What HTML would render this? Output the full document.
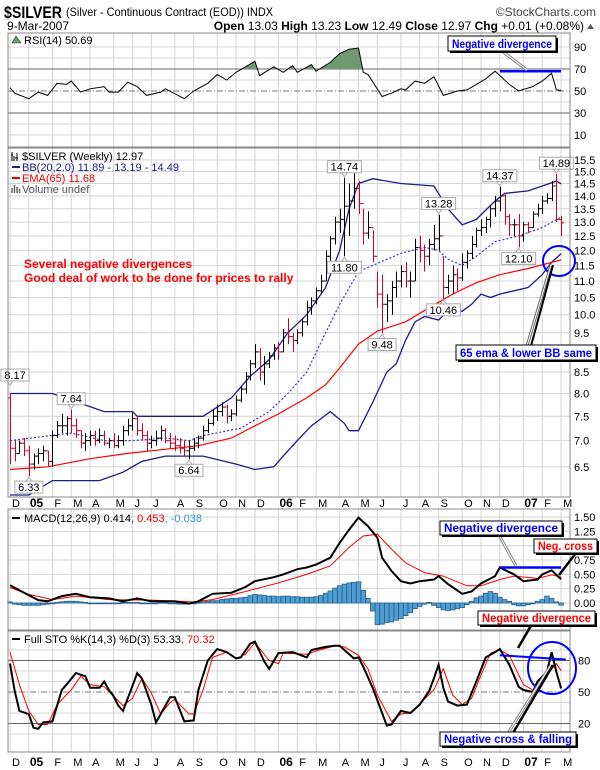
<!DOCTYPE html>
<html><head><meta charset="utf-8">
<style>
html,body{margin:0;padding:0;background:#fff;}
svg{display:block;font-family:"Liberation Sans",Arial,sans-serif;}
</style></head>
<body>
<svg id="chart" width="600" height="770" viewBox="0 0 600 770" xmlns="http://www.w3.org/2000/svg">
<rect x="0" y="0" width="600" height="770" fill="#fff"/>
<g>
<text x="4" y="18" font-size="17" font-weight="bold" textLength="58" lengthAdjust="spacingAndGlyphs">$SILVER</text>
<text x="66" y="16" font-size="12" textLength="207" lengthAdjust="spacingAndGlyphs">(Silver - Continuous Contract (EOD)) INDX</text>
<text x="596" y="16" font-size="12" fill="#444" text-anchor="end">©StockCharts.com</text>
<text x="7" y="30" font-size="12">9-Mar-2007</text>
<text x="584" y="30" font-size="12" text-anchor="end"><tspan font-weight="bold">Open</tspan> 13.03  <tspan font-weight="bold">High</tspan> 13.23  <tspan font-weight="bold">Low</tspan> 12.49  <tspan font-weight="bold">Close</tspan> 12.97  <tspan font-weight="bold">Chg</tspan> +0.01 (+0.08%)</text>
<polygon points="587,29 594,29 590.5,24" fill="#555"/>
</g>
</svg>
<script>
// ---------- DATA ----------
const monthLabels=["D","05","F","M","A","M","J","J","A","S","O","N","D","06","F","M","A","M","J","J","A","S","O","N","D","07","F","M"];
const monthWeeks=[0,4,9,13,17,22,26,30,35,39,44,48,52,57,61,65,70,74,78,83,87,91,96,100,104,109,113,117];
const highs=[8.0,7.0,7.0,7.05,6.9,6.75,6.85,6.9,6.8,7.2,7.4,7.55,7.5,7.64,7.45,7.2,7.15,7.2,7.2,7.25,7.2,7.05,7.15,7.1,7.3,7.45,7.6,7.5,7.35,7.2,7.1,7.2,7.3,7.25,7.15,7.1,7.05,7.0,7.0,7.05,7.1,7.3,7.45,7.65,7.75,7.8,7.75,7.65,7.95,8.15,8.5,8.8,9.2,9.1,8.9,9.0,9.2,9.25,9.6,9.9,9.5,9.6,9.9,10.4,10.5,10.8,11.2,12.0,12.5,13.2,13.5,14.74,14.5,15.1,14.6,13.5,13.4,12.7,11.3,11.2,10.6,11.0,11.3,11.5,11.6,11.3,12.4,12.5,12.2,12.4,12.9,13.28,11.8,11.2,11.5,11.4,11.9,12.0,12.5,12.8,13.1,13.2,13.6,14.0,14.37,14.1,13.3,13.1,13.3,13.0,13.0,13.4,13.7,14.0,14.1,14.6,14.89,13.23];
const lows=[6.55,6.6,6.75,6.7,6.33,6.45,6.55,6.6,6.5,6.5,7.05,7.15,7.1,7.15,7.05,6.85,6.8,6.9,6.9,6.95,6.9,6.85,6.85,6.85,6.9,7.1,7.2,7.1,7.0,6.8,6.85,6.9,7.0,6.95,6.85,6.8,6.75,6.7,6.64,6.8,6.85,7.0,7.15,7.3,7.4,7.5,7.35,7.4,7.5,7.8,8.0,8.3,8.6,8.3,8.2,8.6,8.8,8.8,9.0,9.2,9.0,9.2,9.4,9.7,10.0,10.3,10.6,11.0,11.6,12.2,12.6,11.8,12.5,13.5,13.3,12.2,12.4,11.6,10.2,9.48,9.8,10.0,10.5,10.8,10.8,10.5,11.0,11.6,11.3,11.5,12.0,12.0,10.46,10.6,10.6,10.7,11.0,11.4,11.7,12.1,12.5,12.6,12.8,13.2,13.4,12.9,12.5,12.5,12.1,12.3,12.6,12.8,13.2,13.3,13.7,13.8,13.0,12.49];
const closes=[6.85,6.75,6.95,6.8,6.55,6.7,6.75,6.8,6.6,7.1,7.3,7.3,7.45,7.3,7.2,6.95,7.0,7.1,7.0,7.1,6.95,7.0,6.9,7.0,7.2,7.3,7.45,7.2,7.1,6.95,7.0,7.05,7.2,7.0,6.95,6.9,6.85,6.8,6.85,6.95,7.05,7.2,7.35,7.5,7.6,7.7,7.5,7.55,7.85,8.1,8.4,8.7,9.0,8.5,8.7,8.9,9.1,9.0,9.5,9.4,9.3,9.5,9.8,10.2,10.4,10.7,11.0,11.8,12.4,13.0,13.1,13.6,13.8,14.3,13.7,12.6,12.8,11.8,10.6,10.3,10.4,10.8,11.0,11.3,11.0,11.0,12.1,12.0,11.8,12.2,12.4,12.5,10.8,11.0,11.2,11.1,11.6,11.9,12.2,12.7,12.8,13.1,13.5,13.8,14.0,13.2,12.9,12.9,12.5,12.9,12.8,13.3,13.5,13.8,13.9,14.4,13.1,12.97];
const bbUpperWeeks=[0,9,20,26,27,41,47,51,55,59,63,67,70,72,74,77,83,90,93,96,99,103,105,110,113,116,117];
const bbUpperValues=[8.0,8.0,7.6,7.6,7.5,7.5,7.9,8.4,8.8,9.5,10.0,10.8,12.0,13.5,14.5,14.7,14.5,14.4,13.5,12.9,13.1,13.8,14.1,14.2,14.4,14.6,14.49];
const bbMidWeeks=[0,13,20,26,33,38,41,49,55,59,63,67,70,74,77,83,88,91,93,96,99,103,108,113,117];
const bbMidValues=[7.0,7.15,7.0,7.0,7.05,7.0,7.1,7.25,7.6,8.0,8.5,9.5,10.3,11.3,11.5,11.9,12.1,12.0,11.7,11.5,11.8,12.3,12.5,12.8,13.19];
const bbLowerWeeks=[0,4,9,19,24,28,33,41,48,52,56,58,61,64,68,71,72,74,77,80,82,84,86,88,91,93,96,98,100,102,104,110,113,115,117];
const bbLowerValues=[6.0,6.0,6.25,6.25,6.4,6.6,6.7,6.7,6.55,6.45,6.5,6.7,7.0,7.3,7.6,7.35,7.2,7.2,7.8,8.5,8.7,9.3,9.8,9.95,9.85,10.1,10.1,10.3,10.6,10.5,10.6,10.8,11.2,11.6,11.89];
const emaWeeks=[0,8,17,25,30,40,47,52,57,63,67,70,74,78,84,89,94,99,104,110,117];
const emaValues=[6.45,6.5,6.65,6.75,6.8,6.9,7.05,7.3,7.55,7.9,8.2,8.6,9.2,9.55,9.8,10.2,10.6,10.95,11.2,11.4,11.68];
const rsiWeeks=[0,1,4,6,8,10,12,13,15,17,20,21,23,25,27,29,32,33,37,39,42,44,46,48,50,52,53,56,58,60,61,64,65,68,70,72,74,75,76,79,81,83,84,86,88,90,92,95,97,99,101,103,106,108,111,113,115,116,117];
const rsiValues=[53,48,43,49,46,57,56,59,49,52,54,49,49,58,54,46,49,52,43,50,57,65,60,67,72,77,64,72,67,73,67,74,68,76,84,88,89,67,65,45,48,52,51,59,57,63,46,50,51,56,61,68,56,50,54,59,66,51,50.69];
const macdWeeks=[0,3,6,8,11,14,17,21,24,27,30,35,38,40,43,47,50,52,56,58,61,63,65,68,70,72,74,76,78,79,81,83,85,87,90,91,93,96,98,100,103,104,107,109,112,113,115,117];
const macdValues=[0.31,0.18,0.05,0.03,0.12,0.16,0.10,0.08,0.03,0.08,0.03,0.03,-0.01,0.03,0.16,0.18,0.28,0.38,0.45,0.50,0.59,0.62,0.67,0.79,1.05,1.28,1.49,1.34,1.14,0.79,0.56,0.38,0.34,0.38,0.41,0.47,0.33,0.16,0.20,0.34,0.47,0.62,0.50,0.38,0.41,0.50,0.57,0.414];
const signalWeeks=[0,4,9,14,21,30,39,43,50,57,63,68,72,75,78,81,84,88,92,97,100,104,107,112,115,117];
const signalValues=[0.27,0.15,0.06,0.12,0.06,0.05,0.02,0.06,0.20,0.35,0.50,0.65,0.97,1.17,1.20,0.94,0.70,0.53,0.47,0.30,0.30,0.41,0.47,0.43,0.49,0.453];
const histValues=[0.02,-0.02,-0.03,-0.04,-0.04,-0.04,-0.04,-0.03,-0.02,0,0.01,0.02,0.03,0.03,0.03,0.02,0.01,0,0,-0.01,-0.01,-0.01,-0.01,0,0.01,0.01,0.01,0.01,0,-0.01,-0.01,0,0.01,0.01,0,0,-0.02,-0.02,-0.01,0,0.01,0.02,0.03,0.04,0.04,0.06,0.07,0.08,0.08,0.09,0.10,0.13,0.15,0.14,0.13,0.12,0.12,0.11,0.12,0.12,0.11,0.11,0.10,0.10,0.10,0.11,0.13,0.17,0.21,0.26,0.30,0.33,0.35,0.36,0.37,0.22,0.08,-0.14,-0.38,-0.37,-0.34,-0.33,-0.30,-0.27,-0.22,-0.17,-0.10,-0.06,-0.02,0.01,-0.04,-0.08,-0.12,-0.13,-0.12,-0.10,-0.08,-0.03,0.03,0.09,0.12,0.17,0.20,0.17,0.10,0.06,0.03,-0.03,-0.05,-0.05,-0.03,0,0.03,0.06,0.12,0.08,0.02,-0.038];
const stoKWeeks=[0,1,2,4,5,6,7,9,11,12,14,16,17,19,20,21,22,23,24,25,27,28,30,31,33,34,35,37,39,40,42,44,46,48,49,51,52,54,55,57,60,63,64,67,69,70,73,74,75,77,79,80,81,83,85,87,89,90,91,92,93,95,97,99,101,103,104,106,108,109,111,112,114,115,116,117];
const stoKValues=[77,51,32,29,16,15,21,22,52,57,68,65,54,54,60,52,46,37,32,44,68,63,38,21,37,45,45,22,23,52,80,91,88,82,83,96,98,79,72,87,88,83,90,93,94,94,82,83,74,54,30,18,19,32,30,38,51,63,76,54,41,37,38,60,83,88,91,76,55,52,50,60,69,88,69,53.33];
const stoDWeeks=[0,2,4,6,8,10,13,15,17,20,22,24,26,28,30,32,34,35,38,39,41,43,46,48,50,52,55,57,58,63,65,69,71,74,76,78,81,83,85,87,90,92,94,96,98,100,102,104,106,109,111,113,116,117];
const stoDValues=[88,57,32,19,19,38,52,65,57,55,46,37,44,63,49,29,40,43,29,29,52,83,88,82,86,97,80,77,87,86,89,94,93,85,72,47,22,29,30,39,52,72,47,38,44,66,87,90,85,57,52,61,77,70.32];
const priceTicks=[15.5,15.0,14.5,14.0,13.5,13.0,12.5,12.0,11.5,11.0,10.5,10.0,9.5,9.0,8.5,8.0,7.5,7.0,6.5];
const priceTickLabels=["15.5","15.0","14.5","14.0","13.5","13.0","12.5","12.0","11.5","11.0","10.5","10.0","9.5","","8.5","8.0","7.5","7.0","6.5"];
const rsiTicks=[90,70,50,30,10];
const macdTicks=[1.5,1.25,1.0,0.75,0.5,0.25,0,-0.25];
const macdTickLabels=["1.50","1.25","","0.75","0.50","0.25","0.00",""];
const stoTicks=[80,50,20];
const priceCallouts=[[71,14.74,"14.74","above"],[71,11.80,"11.80","below"],[91,13.28,"13.28","above"],[104,14.37,"14.37","above"],[116,14.89,"14.89","above"],[108,12.10,"12.10","below"],[92,10.46,"10.46","below"],[79,9.48,"9.48","below"],[0,8.17,"8.17","above"],[13,7.64,"7.64","above"],[38,6.64,"6.64","below"],[4,6.33,"6.33","below"]];

// ---------- SCALES ----------
const NS='http://www.w3.org/2000/svg';
const svg=document.getElementById('chart');
const L=8,R=570;
const xw=w=>10+w*4.71;
const LN=Math.log(15.5);
const priceY=p=>160+(LN-Math.log(p))*353;
const rsiY=v=>91-(v-50)*1.1;
const macdY=v=>603-v*57.3;
const stoY=v=>692-(v-50)*1.05;
function mk(tag,attrs,parent){const e=document.createElementNS(NS,tag);for(const k in attrs)e.setAttribute(k,attrs[k]);(parent||svg).appendChild(e);return e;}
function txt(x,y,s,attrs,parent){const e=mk('text',Object.assign({x:x,y:y,'font-size':11},attrs||{}),parent);e.textContent=s;return e;}

const panels=[["rsi-panel",33,147],["price-panel",148,497],["macd-panel",509,630],["sto-panel",631,752]];
const pg={};
panels.forEach(p=>{
  const g=mk('g',{});
  
  
  pg[p[0]]=g;
  const r=mk('rect',{x:L,y:p[1],width:R-L,height:p[2]-p[1],fill:'#fff',stroke:'none'},g);
  
  
  monthWeeks.forEach(w=>{
    const l=mk('line',{x1:xw(w),x2:xw(w),y1:p[1],y2:p[2],stroke:'#d4d4d4','stroke-width':1},g);
    
    
  });
});

// RSI grid
[10,20,30,40,50,60,70,80,90].forEach(v=>{
  const major=(v===70||v===30), mid=v===50;
  const l=mk('line',{x1:L,x2:R,y1:rsiY(v),y2:rsiY(v),stroke:major?'#666':(mid?'#777':'#d4d4d4'),'stroke-width':1,'stroke-dasharray':mid?'6,2,1,2':'none'},pg['rsi-panel']);
  
  
});
rsiTicks.forEach(v=>{
  const t=txt(574,rsiY(v)+4,String(v),{'font-size':11});
  
  
});
// price grid
priceTicks.forEach((p,i)=>{
  const l=mk('line',{x1:L,x2:R,y1:priceY(p),y2:priceY(p),stroke:'#d4d4d4'},pg['price-panel']);
  
  
  const t=txt(574,priceY(p)+4,priceTickLabels[i],{'font-size':11});
  
  
});
// macd grid
macdTicks.forEach((v,i)=>{
  const l=mk('line',{x1:L,x2:R,y1:macdY(v),y2:macdY(v),stroke:'#d4d4d4'},pg['macd-panel']);
  
  
  const t=txt(574,macdY(v)+4,macdTickLabels[i],{'font-size':11});
  
  
});
// sto grid
[10,20,30,40,50,60,70,80,90].forEach(v=>{
  const major=(v===80||v===20), mid=v===50;
  const l=mk('line',{x1:L,x2:R,y1:stoY(v),y2:stoY(v),stroke:major?'#666':(mid?'#777':'#d4d4d4'),'stroke-dasharray':mid?'6,2,1,2':'none'},pg['sto-panel']);
  
  
});
stoTicks.forEach(v=>{
  const t=txt(578,stoY(v)+4,String(v),{'font-size':11});
  
  
});
// date labels
[503,762].forEach((yy,k)=>{
  monthLabels.forEach((m,i)=>{
    const bold=/\d/.test(m);
    const t=txt(xw(monthWeeks[i])+(bold?1:2),yy+4,m,{'font-size':bold?12:11,'font-weight':bold?'bold':'normal','text-anchor':'start'});
    
    
  });
});

function pts(weeks,vals,fy){return weeks.map((w,i)=>xw(w).toFixed(1)+','+fy(vals[i]).toFixed(1)).join(' ');}

// RSI fill above 70 + line
const cp=mk('clipPath',{id:'rsiclip'});
mk('rect',{x:L,y:33,width:R-L,height:rsiY(70)-33},cp);
const rf=mk('polygon',{points:xw(rsiWeeks[0])+','+rsiY(70)+' '+pts(rsiWeeks,rsiValues,rsiY)+' '+xw(rsiWeeks[rsiWeeks.length-1])+','+rsiY(70),fill:'#6f9a6f','clip-path':'url(#rsiclip)'},pg['rsi-panel']);


const rl=mk('polyline',{points:pts(rsiWeeks,rsiValues,rsiY),fill:'none',stroke:'#000','stroke-width':1},pg['rsi-panel']);



// Bollinger, EMA
const bu=mk('polyline',{points:pts(bbUpperWeeks,bbUpperValues,priceY),fill:'none',stroke:'#1c1c8a','stroke-width':1.3},pg['price-panel']);


const bl=mk('polyline',{points:pts(bbLowerWeeks,bbLowerValues,priceY),fill:'none',stroke:'#1c1c8a','stroke-width':1.3},pg['price-panel']);


const bm=mk('polyline',{points:pts(bbMidWeeks,bbMidValues,priceY),fill:'none',stroke:'#3a3aaa','stroke-width':1.2,'stroke-dasharray':'2,2'},pg['price-panel']);


const em=mk('polyline',{points:pts(emaWeeks,emaValues,priceY),fill:'none',stroke:'#f00','stroke-width':1.2},pg['price-panel']);



// price bars
closes.forEach((c,i)=>{
  const up=i===0?false:c>=closes[i-1];
  const col=up?'#000':'#d0002a';
  const x=Math.round(xw(i))+0.5;
  const g=mk('g',{stroke:col,'stroke-width':1},pg['price-panel']);
  
  
  mk('line',{x1:x,x2:x,y1:priceY(highs[i]),y2:priceY(lows[i])},g);
  mk('line',{x1:x,x2:x+2.5,y1:priceY(c),y2:priceY(c)},g);
  const o=i===0?highs[0]-0.1:closes[i-1];
  mk('line',{x1:x-2.5,x2:x,y1:priceY(o),y2:priceY(o)},g);
});

// price callout labels
priceCallouts.forEach(pc=>{
  const x=xw(pc[0]), yv=priceY(pc[1]);
  const above=pc[3]==='above';
  const by=above?yv-17:yv+5;
  const w=pc[2].length*6+4;
  const bx=Math.max(1,x-w/2);
  const g=mk('g',{},pg['price-panel']);
  
  
  mk('rect',{x:bx,y:by,width:w,height:12,fill:'#fff',stroke:'#aaa'},g);
  const ty=above?by+12:by;
  mk('polygon',{points:(x-3)+','+ty+' '+(x+3)+','+ty+' '+x+','+(above?ty+4:ty-4),fill:'#fff',stroke:'#aaa'},g);
  txt(bx+w/2,by+10,pc[2],{'text-anchor':'middle','font-size':11},g);
});

// MACD histogram
histValues.forEach((v,i)=>{
  const y0=macdY(0),y1=macdY(v);
  const r=mk('rect',{x:xw(i)-2.3,y:Math.min(y0,y1),width:4.6,height:Math.max(0.8,Math.abs(y1-y0)),fill:'#4f9fd2',stroke:'#27608f','stroke-width':0.8},pg['macd-panel']);
  
  
});
const sl=mk('polyline',{points:pts(signalWeeks,signalValues,macdY),fill:'none',stroke:'#f00','stroke-width':1},pg['macd-panel']);


const ml=mk('polyline',{points:pts(macdWeeks,macdValues,macdY),fill:'none',stroke:'#000','stroke-width':2},pg['macd-panel']);



// STO
const dl=mk('polyline',{points:pts(stoDWeeks,stoDValues,stoY),fill:'none',stroke:'#f00','stroke-width':1},pg['sto-panel']);


const kl=mk('polyline',{points:pts(stoKWeeks,stoKValues,stoY),fill:'none',stroke:'#000','stroke-width':2},pg['sto-panel']);



// panel borders
panels.forEach(p=>{
  const b=mk('rect',{x:L,y:p[1],width:R-L,height:p[2]-p[1],fill:'none',stroke:'#888'});
  
  
});

// legends
function legend(name,x,y,parts){
  const g=mk('g',{});
  
  
  const t=mk('text',{x:x,y:y,'font-size':11},g);
  parts.forEach(p=>{const s=mk('tspan',{fill:p[1]},t);s.textContent=p[0];});
  return g;
}
const g1=legend('rsi-legend',24,44,[['RSI(14) 50.69','#000']]);
mk('polygon',{points:'12,43 16,36 21,43',fill:'#6f9a6f',stroke:'#333','stroke-width':0.6},g1);
const g2=legend('price-legend-symbol',22,160,[['$SILVER (Weekly) 12.97','#000']]);
mk('path',{d:'M12 152v9M14 156v5M17 153v8M11 155h2M15 158h3',stroke:'#000',fill:'none'},g2);
const g3=legend('bb-legend',22,171,[['BB(20,2.0) 11.89 - 13.19 - 14.49','#1c1c8a']]);
mk('line',{x1:12,x2:20,y1:167,y2:167,stroke:'#1c1c8a','stroke-width':2},g3);
const g4=legend('ema-legend',22,182,[['EMA(65) 11.68','#e00']]);
mk('line',{x1:12,x2:20,y1:178,y2:178,stroke:'#e00','stroke-width':2},g4);
const g5=legend('volume-legend',22,193,[['Volume undef','#555']]);
mk('path',{d:'M12 193v-5M14.5 193v-8M17 193v-6M19.5 193v-4',stroke:'#666','stroke-width':1.5},g5);
const g6=legend('macd-legend',24,522,[['MACD(12,26,9) 0.414','#000'],[', 0.453','#e00'],[', -0.038','#3399cc']]);
mk('line',{x1:12,x2:20,y1:518,y2:518,stroke:'#000','stroke-width':2},g6);
const g7=legend('sto-legend',24,643,[['Full STO %K(14,3) %D(3) 53.33','#000'],[', 70.32','#e00']]);
mk('line',{x1:12,x2:20,y1:639,y2:639,stroke:'#000','stroke-width':2},g7);

// annotations
function callout(name,x1,y1,x2,y2,col){
  const g=mk('g',{});
  
  
  mk('line',{x1:x1,y1:y1,x2:x2,y2:y2,stroke:col,'stroke-width':3},g);
  mk('line',{x1:x1,y1:y1,x2:x2,y2:y2,stroke:'#fff','stroke-width':1},g);
}
function box(name,x,y,w,h,s,col){
  const g=mk('g',{});
  
  
  mk('rect',{x:x+2,y:y+2,width:w,height:h,fill:'#000'},g);
  mk('rect',{x:x,y:y,width:w,height:h,fill:'#fff',stroke:'#000'},g);
  txt(x+4,y+h-3,s,{'font-size':12,'font-weight':'bold',fill:col,textLength:w-8,lengthAdjust:'spacingAndGlyphs'},g);
}
function seg(name,x1,y1,x2,y2,col,w){
  const l=mk('line',{x1:x1,y1:y1,x2:x2,y2:y2,stroke:col,'stroke-width':w});
  
  
}
// RSI
seg('rsi-divergence-line',xw(104),rsiY(68),xw(117),rsiY(68),'#00f',2.5);
callout('rsi-callout',502,51,527,70,'#888');
box('rsi-divergence-note',448,36,108,15,'Negative divergence','#00f');
// price
const t1=txt(24,268,'Several negative divergences',{'font-size':12,'font-weight':'bold',fill:'#f00'});


const t2=txt(24,282,'Good deal of work to be done for prices to rally',{'font-size':12,'font-weight':'bold',fill:'#f00'});


const c1=mk('ellipse',{cx:559,cy:261,rx:16,ry:15,fill:'none',stroke:'#00f','stroke-width':2});


callout('ema-bb-callout-1',527,346,551,265,'#666');
seg('ema-bb-callout-2',531,346,553,265,'#000',2);
box('ema-bb-note',456,345,140,15,'65 ema & lower BB same','#00f');
// MACD
seg('macd-divergence-line',xw(104),macdY(0.62),xw(117),macdY(0.62),'#00f',2.5);
callout('macd-divergence-callout',499,535,516,566,'#888');
box('macd-divergence-note',440,521,122,14,'Negative divergence','#00f');
seg('neg-cross-callout',576,553,559,575,'#000',2.5);
box('neg-cross-note',534,539,63,14,'Neg. cross','#f00');
// STO
seg('sto-divergence-line',xw(104),stoY(85),xw(118),stoY(81),'#00f',2);
const c2=mk('ellipse',{cx:552,cy:668,rx:24,ry:26,fill:'none',stroke:'#00f','stroke-width':2});


seg('sto-divergence-callout',532,624,518,648,'#000',2.5);
box('sto-divergence-note',478,611,117,14,'Negative divergence','#f00');
callout('sto-cross-callout-1',508,733,551,665,'#888');
seg('sto-cross-callout-2',513,733,553,665,'#000',2.5);
box('sto-cross-note',440,732,136,14,'Negative cross & falling','#00f');
</script>
</body></html>
